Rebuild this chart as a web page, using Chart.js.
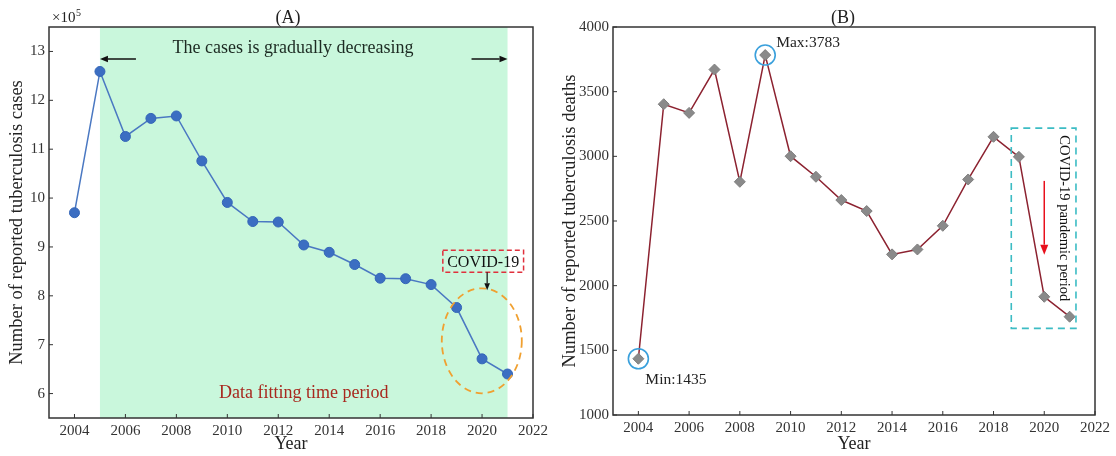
<!DOCTYPE html>
<html><head><meta charset="utf-8">
<script src="https://cdn.jsdelivr.net/npm/chart.js@4.4.0/dist/chart.umd.min.js"></script>
<style>
html,body{margin:0;padding:0;background:#fff;}
#wrap{position:relative;width:1116px;height:456px;}
#ca{position:absolute;left:0;top:0;z-index:2;}
#cb{position:absolute;left:545px;top:0;z-index:1;}
</style></head>
<body><div id="wrap"><canvas id="ca" width="562" height="456"></canvas><canvas id="cb" width="571" height="456"></canvas></div>
<script>
const years = [2004,2005,2006,2007,2008,2009,2010,2011,2012,2013,2014,2015,2016,2017,2018,2019,2020,2021];
const casesE5 = [9.70,12.59,11.26,11.63,11.68,10.76,9.91,9.52,9.51,9.04,8.89,8.64,8.36,8.35,8.23,7.76,6.71,6.40];
const deaths = [1435,3403,3336,3671,2803,3783,3001,2842,2662,2577,2242,2280,2463,2821,3151,2996,1914,1760];
const xTicks = [2004,2006,2008,2010,2012,2014,2016,2018,2020,2022];
const yTicksA = [6,7,8,9,10,11,12,13];
const yTicksB = [1000,1500,2000,2500,3000,3500,4000];

const SERIF = "'Liberation Serif','Times New Roman',serif";
Chart.defaults.font.family = SERIF;
Chart.defaults.color = '#333';
Chart.defaults.animation = false;

function frame(chart){
  const {ctx, chartArea:a, scales} = chart;
  ctx.save();
  ctx.strokeStyle = '#333'; ctx.lineWidth = 1.5;
  ctx.strokeRect(a.left, a.top, a.right-a.left, a.bottom-a.top);
  ctx.lineWidth = 1;
  scales.x.ticks.forEach(t=>{const x=scales.x.getPixelForValue(t.value);ctx.beginPath();ctx.moveTo(x,a.bottom);ctx.lineTo(x,a.bottom-4);ctx.stroke();});
  scales.y.ticks.forEach(t=>{const y=scales.y.getPixelForValue(t.value);ctx.beginPath();ctx.moveTo(a.left,y);ctx.lineTo(a.left+4,y);ctx.stroke();});
  ctx.restore();
}
function arrow(ctx,x1,y1,x2,y2,color,w,head){
  ctx.save();ctx.strokeStyle=color;ctx.fillStyle=color;ctx.lineWidth=w;
  const ang=Math.atan2(y2-y1,x2-x1);
  ctx.beginPath();ctx.moveTo(x1,y1);ctx.lineTo(x2-Math.cos(ang)*head,y2-Math.sin(ang)*head);ctx.stroke();
  ctx.beginPath();ctx.moveTo(x2,y2);
  ctx.lineTo(x2-Math.cos(ang)*head-Math.sin(ang)*head*0.4,y2-Math.sin(ang)*head+Math.cos(ang)*head*0.4);
  ctx.lineTo(x2-Math.cos(ang)*head+Math.sin(ang)*head*0.4,y2-Math.sin(ang)*head-Math.cos(ang)*head*0.4);
  ctx.closePath();ctx.fill();ctx.restore();
}

const plugA = {
  id:'plugA',
  beforeDatasetsDraw(chart){
    const {ctx, chartArea:a, scales:{x,y}} = chart;
    ctx.save();
    ctx.fillStyle = '#c9f7dc';
    const x1 = x.getPixelForValue(2005), x2 = x.getPixelForValue(2021);
    ctx.fillRect(x1, a.top, x2-x1, a.bottom-a.top);
    ctx.restore();
  },
  afterDatasetsDraw(chart){
    const {ctx, chartArea:a, scales:{x,y}} = chart;
    frame(chart);
    ctx.save();
    ctx.fillStyle='#222'; ctx.textBaseline='middle'; ctx.textAlign='center';
    ctx.font = '18px '+SERIF;
    ctx.fillText('(A)', (a.left+a.right)/2 - 3, a.top-9);
    ctx.textAlign='left'; ctx.font='15px '+SERIF;
    ctx.fillText('\u00d710', a.left+3, a.top-9);
    ctx.font='10px '+SERIF; ctx.fillText('5', a.left+27, a.top-14);
    const x1 = x.getPixelForValue(2005), x2 = x.getPixelForValue(2021);
    ctx.textAlign='center'; ctx.textBaseline='alphabetic'; ctx.font='18px '+SERIF; ctx.fillStyle='#1c2a22';
    ctx.fillText('The cases is gradually decreasing', (a.left+a.right)/2+2, a.top+26);
    arrow(ctx, x1+36, a.top+32, x1, a.top+32, '#111', 1.5, 8);
    arrow(ctx, x2-36, a.top+32, x2, a.top+32, '#111', 1.5, 8);
    ctx.fillStyle='#a8281e'; ctx.font='18px '+SERIF;
    ctx.fillText('Data fitting time period', (x1+x2)/2, a.bottom-20);
    ctx.textBaseline='middle';
    // COVID box
    const bx1 = x.getPixelForValue(2018.46), bx2 = x.getPixelForValue(2021.63);
    const by1 = y.getPixelForValue(8.93), by2 = y.getPixelForValue(8.48);
    ctx.setLineDash([5,3]); ctx.strokeStyle='#e0303c'; ctx.lineWidth=1.5;
    ctx.strokeRect(bx1, by1, bx2-bx1, by2-by1);
    ctx.setLineDash([]);
    ctx.fillStyle='#111'; ctx.font='16px '+SERIF;
    ctx.fillText('COVID-19', (bx1+bx2)/2, (by1+by2)/2+1);
    const ax = x.getPixelForValue(2020.2);
    arrow(ctx, ax, by2, ax, by2+18, '#111', 1.2, 7);
    // ellipse
    ctx.setLineDash([7,5]); ctx.strokeStyle='#f0a030'; ctx.lineWidth=1.8;
    ctx.beginPath();
    ctx.ellipse(x.getPixelForValue(2019.99), y.getPixelForValue(7.08), 40, 52.5, 0, 0, Math.PI*2);
    ctx.stroke();
    ctx.restore();
  }
};

const plugB = {
  id:'plugB',
  afterDatasetsDraw(chart){
    const {ctx, chartArea:a, scales:{x,y}} = chart;
    frame(chart);
    ctx.save();
    ctx.fillStyle='#222'; ctx.textBaseline='middle'; ctx.textAlign='center';
    ctx.font='18px '+SERIF;
    ctx.fillText('(B)', a.left+230, a.top-9);
    const iMax = deaths.indexOf(Math.max(...deaths)), iMin = deaths.indexOf(Math.min(...deaths));
    const pMax = [x.getPixelForValue(years[iMax]), y.getPixelForValue(deaths[iMax])];
    const pMin = [x.getPixelForValue(years[iMin]), y.getPixelForValue(deaths[iMin])];
    ctx.strokeStyle='#3aa0dc'; ctx.lineWidth=1.6;
    ctx.beginPath(); ctx.arc(pMax[0], pMax[1], 10, 0, Math.PI*2); ctx.stroke();
    ctx.beginPath(); ctx.arc(pMin[0], pMin[1], 10, 0, Math.PI*2); ctx.stroke();
    ctx.fillStyle='#222'; ctx.textAlign='left'; ctx.font='15.5px '+SERIF;
    ctx.fillText('Max:'+deaths[iMax], pMax[0]+11, pMax[1]-12);
    ctx.fillText('Min:'+deaths[iMin], pMin[0]+7, pMin[1]+21);
    // cyan box
    const bx1 = x.getPixelForValue(2018.7), bx2 = x.getPixelForValue(2021.25);
    const by1 = y.getPixelForValue(3218), by2 = y.getPixelForValue(1670);
    ctx.setLineDash([7,5]); ctx.strokeStyle='#3cbcc4'; ctx.lineWidth=1.6;
    ctx.strokeRect(bx1, by1, bx2-bx1, by2-by1);
    ctx.setLineDash([]);
    ctx.save();
    ctx.translate(bx2-12, (by1+by2)/2 - 10);
    ctx.rotate(Math.PI/2);
    ctx.textAlign='center'; ctx.fillStyle='#111'; ctx.font='14.5px '+SERIF;
    ctx.fillText('COVID-19 pandemic period', 0, 0);
    ctx.restore();
    const ax = x.getPixelForValue(2020);
    arrow(ctx, ax, y.getPixelForValue(2810), ax, y.getPixelForValue(2240), '#e8101c', 1.5, 10);
    ctx.restore();
  }
};

function fitW(w){ return function(s){ s.width = w; s.paddingTop = 0; s.paddingBottom = 0; }; }
function fitH(h){ return function(s){ s.height = h; s.paddingLeft = 0; s.paddingRight = 0; }; }
const tickLabel = v => String(v);

new Chart(document.getElementById('ca'), {
  type:'line',
  data:{datasets:[{data: years.map((yr,i)=>({x:yr,y:casesE5[i]})),
    borderColor:'#4a78c2', borderWidth:1.5, backgroundColor:'#3c6ec2',
    pointBackgroundColor:'#3c6ec2', pointBorderColor:'#3466b8', pointRadius:5, pointBorderWidth:1, tension:0}]},
  options:{
    responsive:false, animation:false,
    layout:{padding:{top:27,right:29,left:0,bottom:0}},
    plugins:{legend:{display:false}, tooltip:{enabled:false}},
    scales:{
      x:{type:'linear', min:2003, max:2022, afterBuildTicks:s=>{s.ticks=xTicks.map(v=>({value:v}));},
         afterFit:fitH(38), grid:{display:false, drawTicks:false}, border:{display:false},
         ticks:{font:{size:15}, padding:4, color:'#333', maxRotation:0, autoSkip:false, callback:tickLabel},
         title:{display:true, text:'Year', font:{size:18}, color:'#222', padding:{top:0,bottom:1}}},
      y:{type:'linear', min:5.5, max:13.5, afterBuildTicks:s=>{s.ticks=yTicksA.map(v=>({value:v}));},
         afterFit:fitW(49), grid:{display:false, drawTicks:false}, border:{display:false},
         ticks:{font:{size:15}, padding:4, color:'#333', callback:tickLabel},
         title:{display:true, text:'Number of reported tuberculosis cases', font:{size:18.5}, color:'#222', padding:{top:6,bottom:0}}}
    }
  },
  plugins:[plugA]
});

new Chart(document.getElementById('cb'), {
  type:'line',
  data:{datasets:[{data: years.map((yr,i)=>({x:yr,y:deaths[i]})),
    borderColor:'#8c2230', borderWidth:1.5, backgroundColor:'#8a8a8a',
    pointStyle:'rectRot', pointBackgroundColor:'#8a8a8a', pointBorderColor:'#7d7d7d', pointRadius:5.5, pointBorderWidth:1, tension:0}]},
  options:{
    responsive:false, animation:false,
    layout:{padding:{top:27,right:21,left:0,bottom:0}},
    plugins:{legend:{display:false}, tooltip:{enabled:false}},
    scales:{
      x:{type:'linear', min:2003, max:2022, afterBuildTicks:s=>{s.ticks=xTicks.map(v=>({value:v}));},
         afterFit:fitH(41), grid:{display:false, drawTicks:false}, border:{display:false},
         ticks:{font:{size:15}, padding:4, color:'#333', maxRotation:0, autoSkip:false, callback:tickLabel},
         title:{display:true, text:'Year', font:{size:18}, color:'#222', padding:{top:0,bottom:1}}},
      y:{type:'linear', min:1000, max:4000, afterBuildTicks:s=>{s.ticks=yTicksB.map(v=>({value:v}));},
         afterFit:fitW(68), grid:{display:false, drawTicks:false}, border:{display:false},
         ticks:{font:{size:15}, padding:4, color:'#333', callback:tickLabel},
         title:{display:true, text:'Number of reported tuberculosis deaths', font:{size:18.5}, color:'#222', padding:{top:14,bottom:0}}}
    }
  },
  plugins:[plugB]
});
</script>
</body></html>
